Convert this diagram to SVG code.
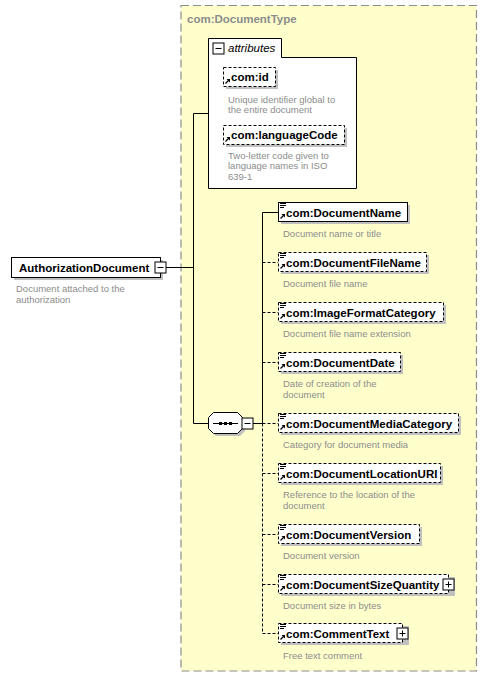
<svg xmlns="http://www.w3.org/2000/svg" width="487" height="678" viewBox="0 0 487 678">
<style>
.el{font-family:"Liberation Sans",Arial,sans-serif;font-weight:bold;font-size:11.5px;fill:#000}
.ds{font-family:"Liberation Sans",Arial,sans-serif;font-size:9.5px;fill:#8c8c8c}
.ttl{font-family:"Liberation Sans",Arial,sans-serif;font-weight:bold;font-size:11.5px;fill:#8c8c8c}
.box{fill:#fff;stroke:#000;stroke-width:1}
.opt{fill:#fff;stroke:#000;stroke-width:1;stroke-dasharray:3,2}
.sh{fill:#c0c0c0}
.ln{stroke:#000;stroke-width:1;fill:none}
.dl{stroke:#000;stroke-width:1;fill:none;stroke-dasharray:3,2}
.ic{stroke:#000;stroke-width:1}
</style>
<defs>
<g id="arr"><path d="M0.5,4.5 L4,1" stroke="#000" stroke-width="1.2"/><path d="M1.5,0 L5,0 L5,3.5 Z" fill="#000"/></g>
<g id="lns"><path d="M0,0.5 H6 M0,2.5 H6 M0,4.5 H4" stroke="#000" stroke-width="1"/></g>
<g id="plus"><rect x="0.5" y="0.5" width="11" height="11" fill="#fff" stroke="#000"/><path d="M3,6 H9 M6,3 V9" stroke="#000"/></g>
<g id="minus"><rect x="0.5" y="0.5" width="11" height="11" fill="#fff" stroke="#000"/><path d="M3,6 H9" stroke="#000"/></g>
</defs>
<rect width="487" height="678" fill="#fff"/>
<g id="DocumentType">
<rect x="181" y="5.5" width="295.5" height="665.5" fill="#ffffcc" stroke="#8c8c8c" stroke-dasharray="8,4" stroke-width="1.2"/>
<text class="ttl" x="187" y="23">com:DocumentType</text>
</g>
<g id="connectors">
<path class="ln" d="M166,267.5 H193.5 M193.5,113.5 V423.5 M193.5,113.5 H208 M193.5,423.5 H208"/>
<path class="ln" d="M253,423.5 H262.5 M262.5,212.5 V423.5 M262.5,212.5 H278"/>
<path class="dl" d="M262.5,423.5 V633.5 M262.5,262.5 H278 M262.5,312.5 H278 M262.5,362.5 H278 M262.5,423.5 H278 M262.5,473.5 H278 M262.5,534.5 H278 M262.5,584.5 H278 M262.5,633.5 H278"/>
</g>
<g id="AuthorizationDocument">
<rect class="sh" x="14" y="260" width="149" height="20"/>
<rect class="box" x="11.5" y="257.5" width="149" height="20"/>
<text class="el" x="19" y="272">AuthorizationDocument</text>
<use href="#minus" x="154.5" y="261.5"/>
<text class="ds" x="16" y="292">Document attached to the</text>
<text class="ds" x="16" y="303">authorization</text>
</g>
<g id="attributes">
<path d="M208.5,38.5 H281.5 V57.5 H356.5 V188.5 H208.5 Z" fill="#fff" stroke="#000"/>
<use href="#minus" x="212.5" y="42.5"/>
<text x="228" y="52" font-family="Liberation Sans,Arial,sans-serif" font-style="italic" font-size="11.5px" fill="#000">attributes</text>
<g id="attr-id">
<rect class="sh" x="226" y="70" width="52" height="19"/>
<rect class="opt" x="223.5" y="67.5" width="52" height="19"/>
<use href="#arr" x="225" y="79"/>
<text class="el" x="231" y="81">com:id</text>
<text class="ds" x="228" y="103">Unique identifier global to</text>
<text class="ds" x="228" y="113">the entire document</text>
</g>
<g id="attr-languageCode">
<rect class="sh" x="226" y="128" width="121" height="19"/>
<rect class="opt" x="223.5" y="125.5" width="121" height="19"/>
<use href="#arr" x="225" y="137"/>
<text class="el" x="231" y="139">com:languageCode</text>
<text class="ds" x="228" y="159">Two-letter code given to</text>
<text class="ds" x="228" y="169">language names in ISO</text>
<text class="ds" x="228" y="180">639-1</text>
</g>
</g>
<g id="sequence">
<polygon class="sh" points="216,415 240,415 245,420 245,431 240,436 216,436 211,431 211,420"/>
<polygon points="213.5,412.5 237.5,412.5 242.5,417.5 242.5,428.5 237.5,433.5 213.5,433.5 208.5,428.5 208.5,417.5" fill="#fff" stroke="#000"/>
<path d="M213,423.5 H238" stroke="#000"/>
<rect x="219" y="422" width="3" height="3" fill="#000"/>
<rect x="224" y="422" width="3" height="3" fill="#000"/>
<rect x="229" y="422" width="3" height="3" fill="#000"/>
<use href="#minus" x="241.5" y="417.5"/>
</g>
<g id="DocumentName">
<rect class="sh" x="281" y="205" width="129" height="19"/>
<rect class="box" x="278.5" y="202.5" width="129" height="19"/>
<use href="#lns" x="280" y="203"/><use href="#arr" x="280" y="214"/>
<text class="el" x="286" y="217">com:DocumentName</text>
<text class="ds" x="283" y="237">Document name or title</text>
</g>
<g id="DocumentFileName">
<rect class="sh" x="281" y="255" width="148" height="19"/>
<rect class="opt" x="278.5" y="252.5" width="148" height="19"/>
<use href="#lns" x="280" y="253"/><use href="#arr" x="280" y="264"/>
<text class="el" x="286" y="267">com:DocumentFileName</text>
<text class="ds" x="283" y="287">Document file name</text>
</g>
<g id="ImageFormatCategory">
<rect class="sh" x="281" y="305" width="165" height="19"/>
<rect class="opt" x="278.5" y="302.5" width="165" height="19"/>
<use href="#lns" x="280" y="303"/><use href="#arr" x="280" y="314"/>
<text class="el" x="286" y="317">com:ImageFormatCategory</text>
<text class="ds" x="283" y="337">Document file name extension</text>
</g>
<g id="DocumentDate">
<rect class="sh" x="281" y="355" width="122" height="19"/>
<rect class="opt" x="278.5" y="352.5" width="122" height="19"/>
<use href="#lns" x="280" y="353"/><use href="#arr" x="280" y="364"/>
<text class="el" x="286" y="367">com:DocumentDate</text>
<text class="ds" x="283" y="387">Date of creation of the</text>
<text class="ds" x="283" y="398">document</text>
</g>
<g id="DocumentMediaCategory">
<rect class="sh" x="281" y="416" width="180" height="19"/>
<rect class="opt" x="278.5" y="413.5" width="180" height="19"/>
<use href="#lns" x="280" y="414"/><use href="#arr" x="280" y="425"/>
<text class="el" x="286" y="428">com:DocumentMediaCategory</text>
<text class="ds" x="283" y="448">Category for document media</text>
</g>
<g id="DocumentLocationURI">
<rect class="sh" x="281" y="466" width="162" height="19"/>
<rect class="opt" x="278.5" y="463.5" width="162" height="19"/>
<use href="#lns" x="280" y="464"/><use href="#arr" x="280" y="475"/>
<text class="el" x="286" y="478">com:DocumentLocationURI</text>
<text class="ds" x="283" y="498">Reference to the location of the</text>
<text class="ds" x="283" y="509">document</text>
</g>
<g id="DocumentVersion">
<rect class="sh" x="281" y="527" width="141" height="19"/>
<rect class="opt" x="278.5" y="524.5" width="141" height="19"/>
<use href="#lns" x="280" y="525"/><use href="#arr" x="280" y="536"/>
<text class="el" x="286" y="539">com:DocumentVersion</text>
<text class="ds" x="283" y="559">Document version</text>
</g>
<g id="DocumentSizeQuantity">
<rect class="sh" x="281" y="577" width="174" height="19"/>
<rect class="opt" x="278.5" y="574.5" width="170" height="19"/>
<use href="#lns" x="280" y="575"/><use href="#arr" x="280" y="586"/>
<text class="el" x="286" y="589">com:DocumentSizeQuantity</text>
<use href="#plus" x="442.5" y="578.5"/>
<text class="ds" x="283" y="609">Document size in bytes</text>
</g>
<g id="CommentText">
<rect class="sh" x="281" y="626" width="128" height="19"/>
<rect class="opt" x="278.5" y="623.5" width="124" height="19"/>
<use href="#lns" x="280" y="624"/><use href="#arr" x="280" y="635"/>
<text class="el" x="286" y="638">com:CommentText</text>
<use href="#plus" x="396.5" y="627.5"/>
<text class="ds" x="283" y="659">Free text comment</text>
</g>
</svg>
